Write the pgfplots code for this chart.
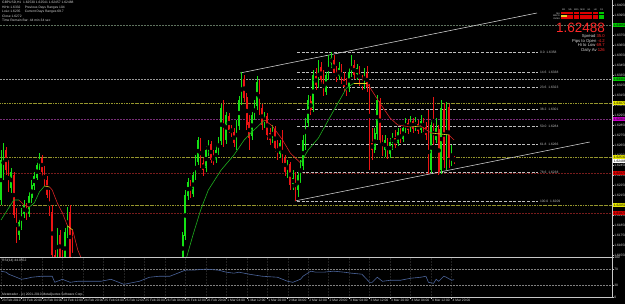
\documentclass[border=0pt]{standalone}
\usepackage{fontspec}
\setmainfont{Liberation Sans}
\usepackage{pgfplots}
\usepackage{pgfplotstable}
\pgfplotsset{compat=1.18}
\definecolor{cup}{RGB}{20,225,20}
\definecolor{cdn}{RGB}{235,20,20}
\definecolor{magreen}{RGB}{30,175,30}
\definecolor{mared}{RGB}{215,35,35}
\definecolor{mayel}{RGB}{235,205,40}
\definecolor{fibo}{RGB}{190,190,190}
\definecolor{lvlolive}{RGB}{150,150,45}
\definecolor{dred}{RGB}{120,28,28}
\definecolor{purp}{RGB}{120,45,120}
\definecolor{gridc}{RGB}{34,34,34}
\definecolor{axgray}{RGB}{200,200,200}
\definecolor{txt}{RGB}{215,215,215}
\definecolor{rsib}{RGB}{75,100,155}
\definecolor{dotg}{RGB}{95,115,95}
\definecolor{bigred}{RGB}{255,40,40}
\definecolor{tagg}{RGB}{0,200,0}
\definecolor{tagy}{RGB}{230,230,0}
\definecolor{tagm}{RGB}{200,0,200}
\definecolor{tagr}{RGB}{220,0,0}
\newcommand\tinyf{\fontsize{3.3}{4.4}\selectfont}

\pgfplotstableread{
i o h l c
0 1.6210 1.6260 1.6205 1.6250
1 1.6235 1.6267 1.6230 1.6260
2 1.6260 1.6263 1.6235 1.6240
3 1.6242 1.6250 1.6218 1.6222
4 1.6222 1.6242 1.6217 1.6238
5 1.6235 1.6238 1.6192 1.6195
6 1.6198 1.6202 1.6167 1.6172
7 1.6175 1.6192 1.6170 1.6188
8 1.6185 1.6202 1.6180 1.6198
9 1.6196 1.6210 1.6192 1.6205
10 1.6204 1.6207 1.6190 1.6195
11 1.6196 1.6218 1.6193 1.6214
12 1.6212 1.6230 1.6207 1.6225
13 1.6224 1.6238 1.6220 1.6234
14 1.6232 1.6250 1.6230 1.6245
15 1.6244 1.6257 1.6240 1.6253
16 1.6252 1.6255 1.6234 1.6238
17 1.6238 1.6244 1.6224 1.6228
18 1.6230 1.6234 1.6212 1.6215
19 1.6215 1.6220 1.6194 1.6198
20 1.6198 1.6205 1.6145 1.6155
21 1.6155 1.6160 1.6135 1.6142
22 1.6148 1.6182 1.6142 1.6178
23 1.6175 1.6180 1.6148 1.6152
24 1.6154 1.6160 1.6138 1.6142
25 1.6145 1.6182 1.6140 1.6178
26 1.6177 1.6203 1.6172 1.6198
27 1.6198 1.6205 1.6142 1.6148
28 1.6152 1.6180 1.6130 1.6135
29 1.6138 1.6142 1.6120 1.6125
30 1.6125 1.6136 1.6118 1.6132
31 1.6132 1.6135 1.6112 1.6115
32 1.6115 1.6120 1.6100 1.6104
33 1.6104 1.6118 1.6100 1.6114
34 1.6114 1.6116 1.6095 1.6098
35 1.6098 1.6102 1.6085 1.6088
36 1.6088 1.6104 1.6084 1.6100
37 1.6100 1.6103 1.6086 1.6090
38 1.6090 1.6110 1.6088 1.6106
39 1.6106 1.6109 1.6090 1.6093
40 1.6093 1.6096 1.6075 1.6080
41 1.6080 1.6095 1.6076 1.6092
42 1.6092 1.6108 1.6089 1.6104
43 1.6104 1.6107 1.6092 1.6096
44 1.6096 1.6116 1.6093 1.6112
45 1.6112 1.6114 1.6098 1.6101
46 1.6101 1.6104 1.6084 1.6087
47 1.6087 1.6100 1.6082 1.6097
48 1.6097 1.6099 1.6078 1.6081
49 1.6081 1.6085 1.6068 1.6072
50 1.6072 1.6088 1.6068 1.6085
51 1.6085 1.6088 1.6070 1.6074
52 1.6074 1.6094 1.6071 1.6090
53 1.6090 1.6106 1.6087 1.6102
54 1.6102 1.6105 1.6090 1.6093
55 1.6093 1.6112 1.6090 1.6108
56 1.6108 1.6122 1.6104 1.6118
57 1.6118 1.6121 1.6105 1.6108
58 1.6108 1.6126 1.6105 1.6122
59 1.6122 1.6124 1.6108 1.6111
60 1.6111 1.6114 1.6096 1.6100
61 1.6100 1.6116 1.6097 1.6113
62 1.6113 1.6128 1.6110 1.6124
63 1.6124 1.6127 1.6110 1.6114
64 1.6114 1.6117 1.6098 1.6102
65 1.6102 1.6118 1.6098 1.6115
66 1.6115 1.6118 1.6100 1.6104
67 1.6104 1.6120 1.6100 1.6116
68 1.6116 1.6118 1.6104 1.6108
69 1.6108 1.6122 1.6104 1.6110
70 1.6110 1.6152 1.6105 1.6148
71 1.6148 1.6178 1.6142 1.6175
72 1.6174 1.6220 1.6170 1.6215
73 1.6214 1.6232 1.6210 1.6228
74 1.6228 1.6230 1.6212 1.6215
75 1.6216 1.6238 1.6213 1.6235
76 1.6234 1.6255 1.6230 1.6250
77 1.6248 1.6273 1.6245 1.6270
78 1.6269 1.6272 1.6242 1.6245
79 1.6247 1.6252 1.6234 1.6240
80 1.6242 1.6264 1.6238 1.6260
81 1.6258 1.6270 1.6254 1.6267
82 1.6266 1.6269 1.6247 1.6250
83 1.6252 1.6260 1.6245 1.6250
84 1.6250 1.6265 1.6247 1.6260
85 1.6259 1.6273 1.6255 1.6270
86 1.6269 1.6306 1.6265 1.6302
87 1.6302 1.6310 1.6263 1.6267
88 1.6270 1.6298 1.6266 1.6295
89 1.6294 1.6297 1.6277 1.6280
90 1.6282 1.6285 1.6273 1.6277
91 1.6278 1.6282 1.6263 1.6267
92 1.6265 1.6290 1.6260 1.6285
93 1.6284 1.6314 1.6280 1.6310
94 1.6309 1.6338 1.6305 1.6332
95 1.6331 1.6335 1.6308 1.6312
96 1.6313 1.6317 1.6280 1.6285
97 1.6288 1.6295 1.6260 1.6272
98 1.6274 1.6298 1.6270 1.6295
99 1.6294 1.6310 1.6290 1.6305
100 1.6304 1.6334 1.6300 1.6328
101 1.6327 1.6330 1.6295 1.6300
102 1.6302 1.6306 1.6280 1.6285
103 1.6286 1.6298 1.6282 1.6295
104 1.6294 1.6297 1.6270 1.6275
105 1.6277 1.6282 1.6265 1.6270
106 1.6270 1.6285 1.6267 1.6282
107 1.6281 1.6284 1.6258 1.6262
108 1.6264 1.6270 1.6250 1.6255
109 1.6256 1.6270 1.6252 1.6267
110 1.6266 1.6280 1.6247 1.6250
111 1.6252 1.6255 1.6234 1.6238
112 1.6238 1.6250 1.6232 1.6247
113 1.6246 1.6248 1.6220 1.6225
114 1.6226 1.6240 1.6220 1.6232
115 1.6232 1.6238 1.6209 1.6218
116 1.6220 1.6240 1.6213 1.6235
117 1.6234 1.6250 1.6227 1.6245
118 1.6244 1.6275 1.6240 1.6270
119 1.6269 1.6292 1.6260 1.6288
120 1.6287 1.6315 1.6283 1.6310
121 1.6309 1.6314 1.6295 1.6300
122 1.6302 1.6340 1.6298 1.6335
123 1.6334 1.6342 1.6320 1.6325
124 1.6326 1.6350 1.6322 1.6344
125 1.6343 1.6348 1.6326 1.6330
126 1.6331 1.6340 1.6314 1.6317
127 1.6318 1.6338 1.6315 1.6335
128 1.6334 1.6355 1.6330 1.6348
129 1.6347 1.6358 1.6342 1.6352
130 1.6350 1.6355 1.6334 1.6337
131 1.6338 1.6344 1.6328 1.6333
132 1.6334 1.6348 1.6330 1.6342
133 1.6341 1.6346 1.6326 1.6330
134 1.6331 1.6338 1.6318 1.6323
135 1.6324 1.6332 1.6314 1.6320
136 1.6321 1.6342 1.6318 1.6338
137 1.6337 1.6355 1.6333 1.6347
138 1.6345 1.6350 1.6331 1.6335
139 1.6336 1.6346 1.6330 1.6342
140 1.6340 1.6344 1.6324 1.6327
141 1.6328 1.6335 1.6320 1.6324
142 1.6325 1.6342 1.6321 1.6338
143 1.6337 1.6344 1.6318 1.6323
144 1.6323 1.6326 1.6240 1.6265
145 1.6267 1.6282 1.6250 1.6260
146 1.6260 1.6282 1.6257 1.6277
147 1.6276 1.6315 1.6270 1.6310
148 1.6309 1.6312 1.6265 1.6270
149 1.6272 1.6275 1.6254 1.6260
150 1.6260 1.6275 1.6253 1.6270
151 1.6269 1.6272 1.6251 1.6255
152 1.6256 1.6272 1.6252 1.6268
153 1.6267 1.6277 1.6260 1.6273
154 1.6272 1.6280 1.6262 1.6265
155 1.6267 1.6282 1.6264 1.6278
156 1.6277 1.6282 1.6267 1.6270
157 1.6271 1.6286 1.6268 1.6282
158 1.6281 1.6292 1.6277 1.6288
159 1.6287 1.6291 1.6276 1.6280
160 1.6281 1.6294 1.6278 1.6290
161 1.6289 1.6292 1.6277 1.6281
162 1.6282 1.6293 1.6279 1.6287
163 1.6286 1.6290 1.6276 1.6279
164 1.6280 1.6295 1.6277 1.6289
165 1.6288 1.6292 1.6278 1.6282
166 1.6283 1.6288 1.6270 1.6275
167 1.6276 1.6300 1.6236 1.6240
168 1.6240 1.6290 1.6237 1.6285
169 1.6284 1.6313 1.6265 1.6270
170 1.6270 1.6292 1.6267 1.6282
171 1.6281 1.6285 1.6235 1.6238
172 1.6240 1.6310 1.6236 1.6302
173 1.6301 1.6307 1.6242 1.6250
174 1.6252 1.6308 1.6240 1.6304
175 1.6303 1.6306 1.6242 1.6252
176 1.6250 1.6265 1.6244 1.6253
177 1.62530 1.62541 1.62457 1.62488
}\candles

\begin{document}
\begin{tikzpicture}
\useasboundingbox (0pt,0pt) rectangle (625pt,304pt);
\fill[black] (0pt,0pt) rectangle (625pt,304pt);
\begin{axis}[
  at={(0pt,47pt)}, anchor=south west, scale only axis,
  width=612pt, height=257pt,
  xmin=-0.39, xmax=238.7, ymin=1.6153, ymax=1.6410,
  clip mode=individual,
  axis x line*=bottom, axis y line*=right,
  axis line style={draw=axgray, line width=0.6pt},
  xtick=\empty,
  minor xtick={0,8,...,232}, xminorgrids,
  ytick={1.6155,1.6165,...,1.6405},
  minor grid style={gridc, dash pattern=on 0.5pt off 1pt, line width=0.3pt},
  tick align=outside, major tick length=1.5pt, minor tick length=0pt,
  tick style={draw=axgray, line width=0.4pt},
  scaled y ticks=false,
  /pgf/number format/assume math mode=true,
  yticklabel style={font=\tinyf, text=txt, anchor=west, inner sep=0.6pt,
    /pgf/number format/.cd, fixed, fixed zerofill, precision=5},
]
% horizontal level lines
\addplot[dotg, line width=0.5pt, dash pattern=on 0.6pt off 0.9pt] coordinates {(-1,1.6385) (240,1.6385)};
\addplot[fibo!80!black, line width=0.5pt, dash pattern=on 0.6pt off 0.9pt] coordinates {(-1,1.6331) (240,1.6331)};
\addplot[lvlolive, line width=0.55pt, dash pattern=on 2.5pt off 1pt on 0.6pt off 1pt] coordinates {(-1,1.6307) (240,1.6307)};
\addplot[purp, line width=0.6pt, dash pattern=on 0.6pt off 0.9pt] coordinates {(-1,1.6291) (240,1.6291)};
\addplot[lvlolive, line width=0.55pt, dash pattern=on 2.5pt off 1pt on 0.6pt off 1pt] coordinates {(-1,1.6253) (240,1.6253)};
\addplot[dred, line width=0.6pt, dash pattern=on 0.6pt off 0.9pt] coordinates {(-1,1.6237) (240,1.6237)};
\addplot[lvlolive, line width=0.55pt, dash pattern=on 2.5pt off 1pt on 0.6pt off 1pt] coordinates {(-1,1.6205) (240,1.6205)};
\addplot[dred, line width=0.6pt, dash pattern=on 0.6pt off 0.9pt] coordinates {(-1,1.6197) (240,1.6197)};
% fibonacci levels
\addplot[fibo, line width=0.6pt, dash pattern=on 3pt off 1.6pt] coordinates {(115.6,1.6358) (209.8,1.6358)};
\addplot[fibo, line width=0.6pt, dash pattern=on 3pt off 1.6pt] coordinates {(115.6,1.6338) (209.8,1.6338)};
\addplot[fibo, line width=0.6pt, dash pattern=on 3pt off 1.6pt] coordinates {(115.6,1.6323) (209.8,1.6323)};
\addplot[fibo, line width=0.6pt, dash pattern=on 3pt off 1.6pt] coordinates {(115.6,1.6301) (209.8,1.6301)};
\addplot[fibo, line width=0.6pt, dash pattern=on 3pt off 1.6pt] coordinates {(115.6,1.6284) (209.8,1.6284)};
\addplot[fibo, line width=0.6pt, dash pattern=on 3pt off 1.6pt] coordinates {(115.6,1.6266) (209.8,1.6266)};
\addplot[fibo, line width=0.6pt, dash pattern=on 3pt off 1.6pt] coordinates {(115.6,1.6238) (209.8,1.6238)};
\addplot[fibo, line width=0.6pt, dash pattern=on 3pt off 1.6pt] coordinates {(115.6,1.6209) (209.8,1.6209)};
% trend lines
\addplot[white!85!black, line width=0.55pt] coordinates {(93.4,1.6337) (209.4,1.6397)};
\addplot[white!85!black, line width=0.55pt] coordinates {(114.8,1.6209) (230,1.6268)};
% candles: wicks
\addplot[only marks, mark=none, forget plot,
  restrict expr to domain={\thisrow{c}-\thisrow{o}}{0:1},
  error bars/.cd, y dir=both, y explicit, error mark=none,
  error bar style={line width=0.5pt, cup}]
  table[x=i, y expr={(\thisrow{h}+\thisrow{l})/2}, y error expr={(\thisrow{h}-\thisrow{l})/2}] {\candles};
\addplot[only marks, mark=none, forget plot,
  restrict expr to domain={\thisrow{o}-\thisrow{c}}{0:1},
  error bars/.cd, y dir=both, y explicit, error mark=none,
  error bar style={line width=0.5pt, cdn}]
  table[x=i, y expr={(\thisrow{h}+\thisrow{l})/2}, y error expr={(\thisrow{h}-\thisrow{l})/2}] {\candles};
% candles: bodies
\addplot[only marks, mark=none, forget plot,
  restrict expr to domain={\thisrow{c}-\thisrow{o}}{0:1},
  error bars/.cd, y dir=both, y explicit, error mark=none,
  error bar style={line width=1.6pt, cup}]
  table[x=i, y expr={(\thisrow{o}+\thisrow{c})/2}, y error expr={max(abs(\thisrow{c}-\thisrow{o})/2,0.00004)}] {\candles};
\addplot[only marks, mark=none, forget plot,
  restrict expr to domain={\thisrow{o}-\thisrow{c}}{0:1},
  error bars/.cd, y dir=both, y explicit, error mark=none,
  error bar style={line width=1.6pt, cdn}]
  table[x=i, y expr={(\thisrow{o}+\thisrow{c})/2}, y error expr={max(abs(\thisrow{c}-\thisrow{o})/2,0.00004)}] {\candles};
% moving average, coloured by slope
\addplot[magreen, line width=0.6pt] coordinates {(0,1.6190)(3,1.6202)(5,1.6210)(7,1.6210)};
\addplot[mared, line width=0.6pt] coordinates {(7,1.6210)(9,1.6205)(11,1.6203)};
\addplot[magreen, line width=0.6pt] coordinates {(11,1.6203)(13,1.6207)(15,1.6218)(17,1.6224)};
\addplot[mayel, line width=0.6pt] coordinates {(17,1.6224)(19,1.6223)};
\addplot[mared, line width=0.6pt] coordinates {(19,1.6223)(20,1.6220)(22,1.6207)(24,1.6197)(26,1.6184)};
\addplot[mayel, line width=0.6pt] coordinates {(26,1.6184)(28,1.6180)};
\addplot[mared, line width=0.6pt] coordinates {(28,1.6180)(30,1.6160)(32,1.6148)(36,1.6125)(42,1.6105)(50,1.6092)};
\addplot[magreen, line width=0.6pt] coordinates {(50,1.6092)(60,1.6100)(68,1.6110)(70,1.6125)(72,1.6148)(75,1.6175)(78,1.6200)(81,1.6220)(86,1.6240)(91,1.6255)(95,1.6270)(98,1.6278)(103,1.6290)};
\addplot[mared, line width=0.6pt] coordinates {(103,1.6290)(106,1.6284)(110,1.6270)(113,1.6257)(117,1.6247)};
\addplot[magreen, line width=0.6pt] coordinates {(117,1.6247)(120,1.6260)(124,1.6272)(129,1.6295)(135,1.6322)(138,1.6327)};
\addplot[mayel, line width=0.6pt] coordinates {(138,1.6327)(143,1.6327)};
\addplot[mared, line width=0.6pt] coordinates {(143,1.6327)(148,1.6307)(152,1.6292)(155,1.6285)(160,1.6283)};
\addplot[mayel, line width=0.6pt] coordinates {(160,1.6283)(164,1.6284)};
\addplot[mared, line width=0.6pt] coordinates {(164,1.6284)(168,1.6277)};
\addplot[mayel, line width=0.6pt] coordinates {(168,1.6277)(175,1.6275)};
\addplot[mared, line width=0.6pt] coordinates {(175,1.6275)(177,1.6270)};
% fibo labels
\begin{scope}[every node/.style={font=\tinyf, text=fibo, anchor=west, inner sep=0.5pt}]
\node at (axis cs:210.3,1.6358) {0.0 \ 1.6358};
\node at (axis cs:210.3,1.6338) {14.6 \ 1.6338};
\node at (axis cs:210.3,1.6323) {23.6 \ 1.6323};
\node at (axis cs:210.3,1.6301) {38.2 \ 1.6301};
\node at (axis cs:210.3,1.6284) {50.0 \ 1.6284};
\node at (axis cs:210.3,1.6266) {61.8 \ 1.6266};
\node at (axis cs:210.3,1.6238) {78.6 \ 1.6238};
\node at (axis cs:210.3,1.6209) {100.0 \ 1.6209};
\end{scope}
\end{axis}

\begin{axis}[
  at={(0pt,6.5pt)}, anchor=south west, scale only axis,
  width=612pt, height=40.5pt,
  xmin=-0.39, xmax=238.7, ymin=0, ymax=100,
  axis x line*=bottom, axis y line*=right,
  axis line style={draw=axgray, line width=0.6pt},
  xtick={0,8,...,176}, xmajorgrids,
  xticklabels={23 Feb 2010, 23 Feb 20:00, 24 Feb 04:00, 24 Feb 12:00, 24 Feb 20:00, 25 Feb 04:00, 25 Feb 12:00, 25 Feb 20:00, 26 Feb 04:00, 26 Feb 12:00, 26 Feb 20:00, 1 Mar 04:00, 1 Mar 12:00, 1 Mar 20:00, 2 Mar 04:00, 2 Mar 12:00, 2 Mar 20:00, 3 Mar 04:00, 3 Mar 12:00, 3 Mar 20:00, 4 Mar 04:00, 4 Mar 12:00, 4 Mar 20:00},
  xticklabel style={font=\tinyf, text=txt, anchor=north west, inner sep=0.4pt, xshift=0.5pt},
  ytick={0,30,70,100},
  yticklabel style={font=\tinyf, text=txt, anchor=west, inner sep=0.6pt},
  /pgf/number format/assume math mode=true,
  grid style={gridc, dash pattern=on 0.5pt off 1pt, line width=0.3pt},
  tick align=outside, major tick length=1.5pt,
  tick style={draw=axgray, line width=0.4pt},
]
\addplot[gray, line width=0.5pt, dash pattern=on 0.6pt off 0.9pt] coordinates {(-1,70) (240,70)};
\addplot[gray, line width=0.5pt, dash pattern=on 0.6pt off 0.9pt] coordinates {(-1,30) (240,30)};
\addplot[rsib, line width=0.6pt] coordinates {
(0,65)(2,62.5)(3,57.5)(6,50)(8,45)(10,47)(12,50)(16,52.5)(20,52.5)(21,37.5)(22,40)(24,45)(27,37.5)(30,40)(35,40)(39,40)(43,45)(46,37.5)(48,32.5)(52,37.5)(54,40)(58,50)(62,52.5)(66,52.5)(70,62.5)(72,67.5)(75,67.5)(80,70)(85,67.5)(88,62.5)(91,60)(93,62.5)(97,57.5)(102,52.5)(108,50)(112,40)(114,37.5)(117,45)(118,52.5)(121,65)(123,62.5)(126,62.5)(130,65)(134,62.5)(137,60)(141,57.5)(144,37.5)(145,37.5)(147,50)(149,40)(152,42.5)(156,42.5)(160,47.5)(164,50)(166,52.5)(167,37.5)(169,35)(170,45)(171,40)(173,52.5)(174,50)(176,42.5)(177,44.06)};
\end{axis}

% price tags on the right scale
\begin{scope}[every node/.style={font=\tinyf, text=black, anchor=west, inner xsep=0.6pt, inner ysep=0.4pt, minimum height=3.8pt}]
\node[fill=tagg] at (613pt,279pt) {1.63850};
\node[fill=tagg] at (613pt,225pt) {1.63310};
\node[fill=tagy] at (613pt,201pt) {1.63070};
\node[fill=tagm] at (613pt,185pt) {1.62910};
\node[fill=tagy] at (613pt,147pt) {1.62530};
\node[fill=white] at (613pt,142.8pt) {1.62488};
\node[fill=tagr] at (613pt,131pt) {1.62370};
\node[fill=tagy] at (613pt,99pt) {1.62050};
\node[fill=tagr] at (613pt,91pt) {1.61970};
\end{scope}

% top-left info
\node[anchor=north west, align=left, font=\tinyf, text=txt, inner sep=0pt] at (2pt,302.5pt)
 {GBPUSD,H1 \ 1.62530 1.62541 1.62457 1.62488\\
  HiHo 1.6332 \quad Previous Days Ranges 104\\
  LoLo 1.6235 \quad Current Days Ranges 69.7\\
  Close 1.6272\\
  Time Remain Bar: 44 min 34 sec};

% top-right widget
\foreach \c in {0,...,5} {
  \foreach \r in {0,1,2} {
    \fill[tagr] ({561pt+\c*6.3pt},{291.8pt-\r*2.6pt}) rectangle ++(5.6pt,-2.1pt);
  }
}
\foreach \r in {0,1,2} {\fill[tagg] ({561pt+6*6.3pt},{291.8pt-\r*2.6pt}) rectangle ++(5.6pt,-2.1pt);}
\fill[mayel] (561pt,289.2pt) rectangle ++(5.6pt,-2.1pt);
\begin{scope}[every node/.style={font=\fontsize{2.3}{2.6}\selectfont, text=txt, inner sep=0pt}]
\node at (563.8pt,293.8pt) {M1};
\node at (570.1pt,293.8pt) {M5};
\node at (576.4pt,293.8pt) {M15};
\node at (582.7pt,293.8pt) {M30};
\node at (589.0pt,293.8pt) {H1};
\node at (595.3pt,293.8pt) {H4};
\node at (601.6pt,293.8pt) {D1};
\node[anchor=east] at (560pt,290.7pt) {MA};
\node[anchor=east] at (560pt,288.1pt) {MACD};
\node[anchor=east] at (560pt,285.5pt) {OsMA};
\end{scope}
\node[anchor=east, text=bigred, font=\fontsize{13.5}{14}\selectfont, inner sep=0pt] at (605pt,276.5pt) {1.62488};
\begin{scope}[every node/.style={font=\fontsize{4.2}{4.6}\selectfont, text=txt, anchor=east, inner sep=0pt}]
\node at (605pt,267.5pt) {Spread \textcolor{bigred}{35.0}};
\node at (605pt,263pt) {Pips to Open \textcolor{bigred}{-4.2}};
\node at (605pt,258.5pt) {Hi to Low \textcolor{bigred}{69.7}};
\node at (605pt,254pt) {Daily Av \textcolor{bigred}{126}};
\end{scope}

% sub-window texts
\node[anchor=west, font=\tinyf, text=txt, inner sep=0pt] at (2pt,43.5pt) {RSI(14) 44.0552};
\node[anchor=west, font=\tinyf, text=txt, inner sep=0pt] at (2pt,9.5pt) {Metatrader - (c) 2001-2010 MetaQuotes Software Corp.};
\end{tikzpicture}
\end{document}
